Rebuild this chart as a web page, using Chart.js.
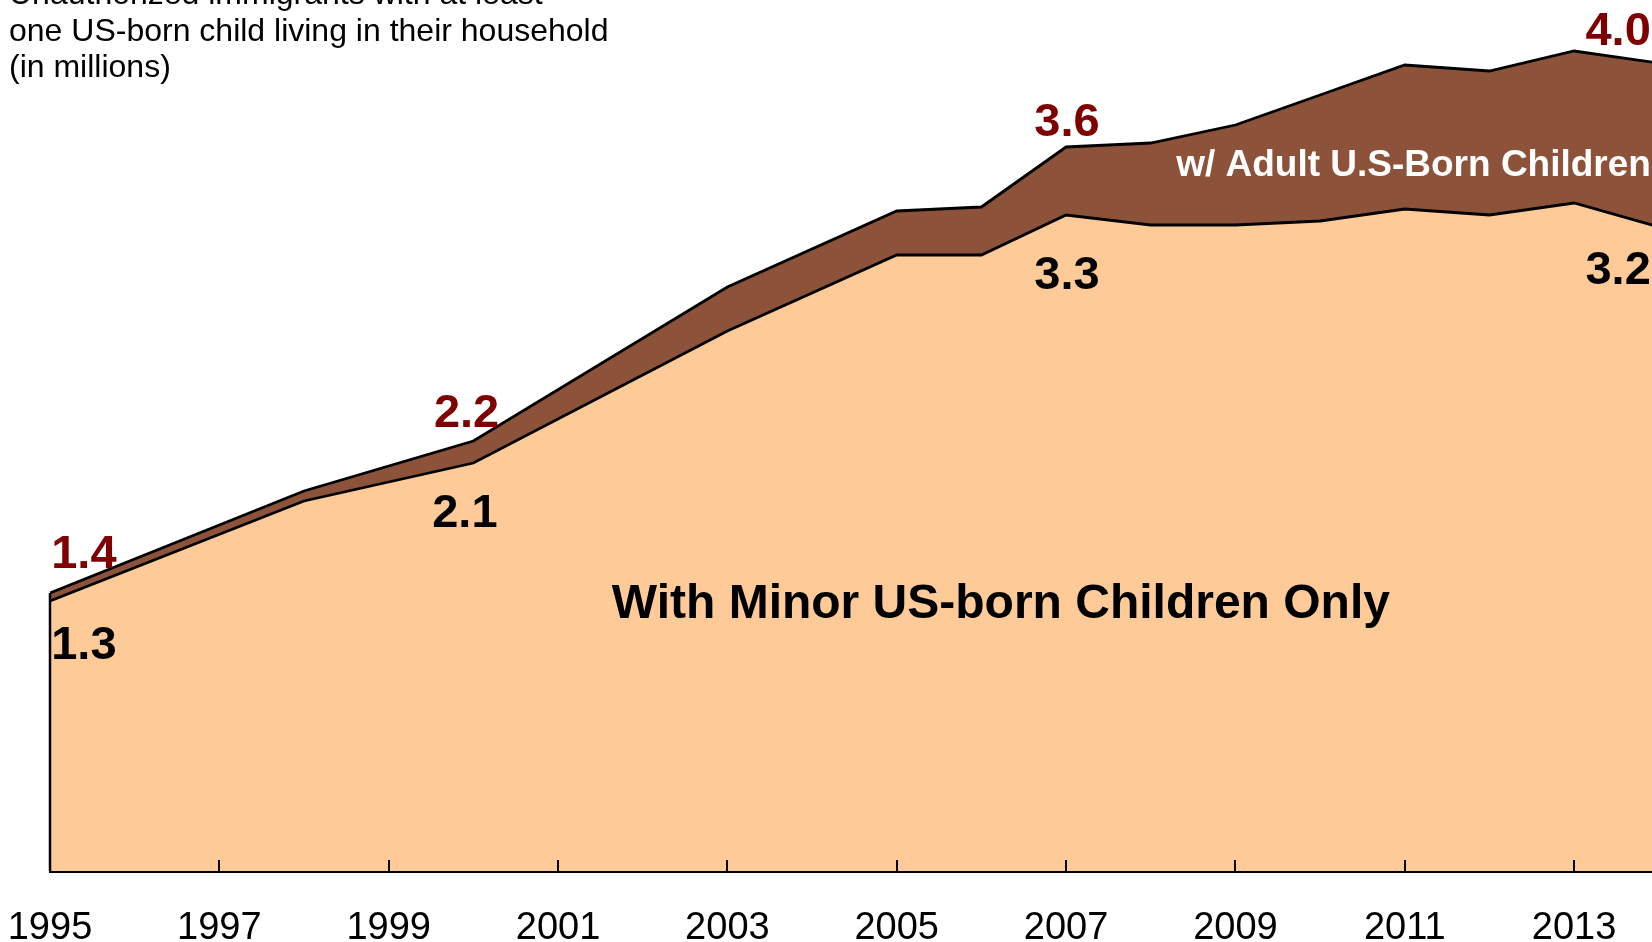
<!DOCTYPE html>
<html>
<head>
<meta charset="utf-8">
<script src="https://cdn.jsdelivr.net/npm/chart.js@4.4.1/dist/chart.umd.min.js"></script>
<style>
    html, body { margin: 0; padding: 0; background: #fff; overflow: hidden; }
    #wrap { width: 1652px; height: 942px; }
</style>
</head>
<body>
<div id="wrap"><canvas id="areaChart" width="1652" height="942"></canvas></div>
<script>
// survey years (the lines are straight between these)
const years = [1995, 1998, 2000, 2003, 2005, 2006, 2007, 2008, 2009, 2010, 2011, 2012, 2013, 2014];
// with minor US-born children only (millions)
const minorOnly = [1.35, 1.85, 2.04, 2.70, 3.08, 3.08, 3.28, 3.23, 3.23, 3.25, 3.31, 3.28, 3.34, 3.22];
// all, incl. those with adult US-born children (millions)
const totalAll = [1.39, 1.90, 2.15, 2.92, 3.30, 3.32, 3.62, 3.64, 3.73, 3.88, 4.03, 4.00, 4.10, 4.04];
const tickYears = [1995, 1997, 1999, 2001, 2003, 2005, 2007, 2009, 2011, 2013];

const titleLines = [
    'Unauthorized immigrants with at least',
    'one US-born child living in their household',
    '(in millions)'
];

const FONT = '"Liberation Sans", Arial, Helvetica, sans-serif';
const PEACH = '#fecb98';
const BROWN = '#8c533a';
const DARK_RED = '#7f0000';

function toPoints(vals) {
    return years.map((y, i) => ({ x: y, y: vals[i] }));
}

// value labels + area names, placed in data units
const notes = [
    { text: '1.4', x: 1995.40, y: 1.58, color: DARK_RED, size: 47 },
    { text: '1.3', x: 1995.40, y: 1.125, color: '#000', size: 47 },
    { text: '2.2', x: 1999.92, y: 2.285, color: DARK_RED, size: 47 },
    { text: '2.1', x: 1999.90, y: 1.785, color: '#000', size: 47 },
    { text: '3.6', x: 2007.01, y: 3.74, color: DARK_RED, size: 47 },
    { text: '3.3', x: 2007.01, y: 2.975, color: '#000', size: 47 },
    { text: '4.0', x: 2013.52, y: 4.1925, color: DARK_RED, size: 47 },
    { text: '3.2', x: 2013.52, y: 3.002, color: '#000', size: 47 },
    { text: 'With Minor US-born Children Only', x: 2006.23, y: 1.332, color: '#000', size: 48 },
    { text: 'w/ Adult U.S-Born Children', x: 2008.30, y: 3.525, color: '#fff', size: 37, align: 'left' }
];

const decorPlugin = {
    id: 'decor',
    afterDatasetsDraw(chart) {
        const ctx = chart.ctx;
        const xs = chart.scales.x;
        const ys = chart.scales.y;
        const bottom = chart.chartArea.bottom;

        ctx.save();
        ctx.strokeStyle = '#000';
        // left edge of the area
        ctx.lineWidth = 2.5;
        const x0 = xs.getPixelForValue(years[0]);
        ctx.beginPath();
        ctx.moveTo(x0, ys.getPixelForValue(totalAll[0]));
        ctx.lineTo(x0, bottom);
        ctx.stroke();
        // inward tick marks on the x axis
        ctx.lineWidth = 2;
        tickYears.slice(1).forEach(v => {
            const px = Math.round(xs.getPixelForValue(v));
            ctx.beginPath();
            ctx.moveTo(px, bottom);
            ctx.lineTo(px, bottom - 11);
            ctx.stroke();
        });
        ctx.restore();

        // labels
        ctx.save();
        ctx.textBaseline = 'middle';
        notes.forEach(n => {
            ctx.font = 'bold ' + n.size + 'px ' + FONT;
            ctx.fillStyle = n.color;
            ctx.textAlign = n.align || 'center';
            ctx.fillText(n.text, xs.getPixelForValue(n.x), ys.getPixelForValue(n.y));
        });
        ctx.restore();

        // title, top-left
        ctx.save();
        ctx.font = '32px ' + FONT;
        ctx.fillStyle = '#000';
        ctx.textAlign = 'left';
        ctx.textBaseline = 'middle';
        titleLines.forEach((line, i) => {
            ctx.fillText(line, 9, -4.5 + i * 36.5);
        });
        ctx.restore();
    }
};

function initChart() {
    const ctx = document.getElementById('areaChart').getContext('2d');
    new Chart(ctx, {
        type: 'line',
        data: {
            datasets: [
                {
                    label: 'With Minor US-born Children Only',
                    data: toPoints(minorOnly),
                    borderColor: '#000',
                    borderWidth: 2.8,
                    backgroundColor: PEACH,
                    fill: 'origin',
                    tension: 0,
                    pointRadius: 0
                },
                {
                    label: 'w/ Adult U.S-Born Children',
                    data: toPoints(totalAll),
                    borderColor: '#000',
                    borderWidth: 2.8,
                    backgroundColor: BROWN,
                    fill: '-1',
                    tension: 0,
                    pointRadius: 0
                }
            ]
        },
        options: {
            responsive: false,
            animation: false,
            devicePixelRatio: 1,
            layout: { padding: 0 },
            plugins: {
                legend: { display: false },
                tooltip: { enabled: false }
            },
            scales: {
                x: {
                    type: 'linear',
                    min: 1995,
                    max: 2013.92,
                    afterBuildTicks: scale => {
                        scale.ticks = tickYears.map(v => ({ value: v }));
                    },
                    afterFit: scale => {
                        scale.height = 71;
                        scale.paddingLeft = 0;
                        scale.paddingRight = 0;
                    },
                    grid: { display: false, drawTicks: false },
                    border: { display: true, color: '#000', width: 3 },
                    ticks: {
                        color: '#000',
                        font: { family: FONT, size: 38 },
                        padding: 35,
                        maxRotation: 0,
                        autoSkip: false,
                        callback: v => String(v)
                    }
                },
                y: {
                    min: 0,
                    max: 4.355,
                    afterFit: scale => { scale.width = 50; },
                    grid: { display: false, drawTicks: false },
                    border: { display: false },
                    ticks: { display: false }
                }
            }
        },
        plugins: [decorPlugin]
    });
}

document.addEventListener('DOMContentLoaded', initChart);
</script>
</body>
</html>
